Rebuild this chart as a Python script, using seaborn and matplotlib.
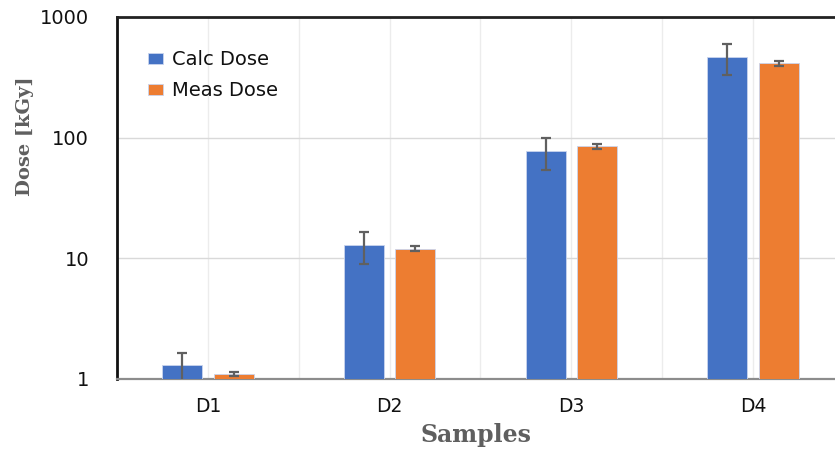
import matplotlib
matplotlib.use("Agg")
import matplotlib.pyplot as plt
import seaborn as sns
import pandas as pd
import numpy as np

samples = ["D1", "D2", "D3", "D4"]
calc_dose = [1.3, 12.8, 77, 463]
calc_err = [0.35, 3.8, 23, 135]
meas_dose = [1.1, 12.0, 85, 415]
meas_err = [0.05, 0.6, 4, 20]
series = ["Calc Dose", "Meas Dose"]
yticks = [1, 10, 100, 1000]

sns.set_theme(style="white")
plt.rcParams["font.family"] = ["DejaVu Sans"]

df = pd.DataFrame({
    "Samples": samples * 2,
    "Dose": calc_dose + meas_dose,
    "Series": [series[0]] * 4 + [series[1]] * 4,
})

fig = plt.figure(figsize=(8.35, 4.51), dpi=100)
ax = fig.add_axes([117 / 835, 1 - 379 / 451, 1 - 117 / 835, (379 - 17) / 451])
ax.set_yscale("log")

colors = ["#4472C4", "#ED7D31"]
sns.barplot(data=df, x="Samples", y="Dose", hue="Series", palette=colors,
            saturation=1, width=0.565, gap=0.22, errorbar=None, ax=ax,
            edgecolor="#c9d4ee", linewidth=0.6, zorder=3)

errs = [calc_err, meas_err]
vals = [calc_dose, meas_dose]
bar_conts = list(ax.containers)
for ci, cont in enumerate(bar_conts):
    xs = [p.get_x() + p.get_width() / 2 for p in cont.patches]
    ax.errorbar(xs, vals[ci], yerr=errs[ci], fmt="none", ecolor="#606060",
                elinewidth=1.6, capsize=3.8, capthick=1.6, zorder=4)

ax.set_yticks(yticks)
ax.set_yticklabels([str(v) for v in yticks])
ax.yaxis.set_minor_locator(matplotlib.ticker.NullLocator())
ax.set_xticks(range(4))
ax.set_xticks(np.arange(-0.5, 3.6, 1.0), minor=True)
ax.set_ylim(1, 1000)
ax.set_xlim(-0.5, (835 - 208) / 181.7)
ax.tick_params(axis="both", which="both", length=0)
ax.tick_params(axis="y", labelsize=14, pad=20, labelcolor="#111111")
ax.tick_params(axis="x", labelsize=13.5, pad=13, labelcolor="#111111")

ax.grid(True, axis="y", which="major", color="#d9d9d9", linewidth=1.0, zorder=0)
ax.grid(True, axis="x", which="both", color="#ececec", linewidth=1.0, zorder=0)
ax.set_axisbelow(True)

ax.spines["right"].set_visible(False)
ax.spines["left"].set_color("#111111")
ax.spines["left"].set_linewidth(2.0)
ax.spines["top"].set_color("#222222")
ax.spines["top"].set_linewidth(2.0)
ax.spines["bottom"].set_color("#8c8c8c")
ax.spines["bottom"].set_linewidth(1.6)

ax.set_xlabel("Samples", family="DejaVu Serif", fontweight="bold", fontsize=17,
              color="#5f5f5f", labelpad=5)
ax.set_ylabel("Dose [kGy]", family="DejaVu Serif", fontweight="bold", fontsize=14,
              color="#5f5f5f")
ax.yaxis.set_label_coords(-0.116, 0.671)

leg = ax.legend(loc="upper left", bbox_to_anchor=(0.043, 0.908), frameon=False,
                fontsize=14, handlelength=0.8, handleheight=0.5,
                handletextpad=0.45, labelspacing=0.6, borderpad=0, borderaxespad=0)
for t in leg.get_texts():
    t.set_color("#111111")

fig.savefig("out.png", dpi=100)
